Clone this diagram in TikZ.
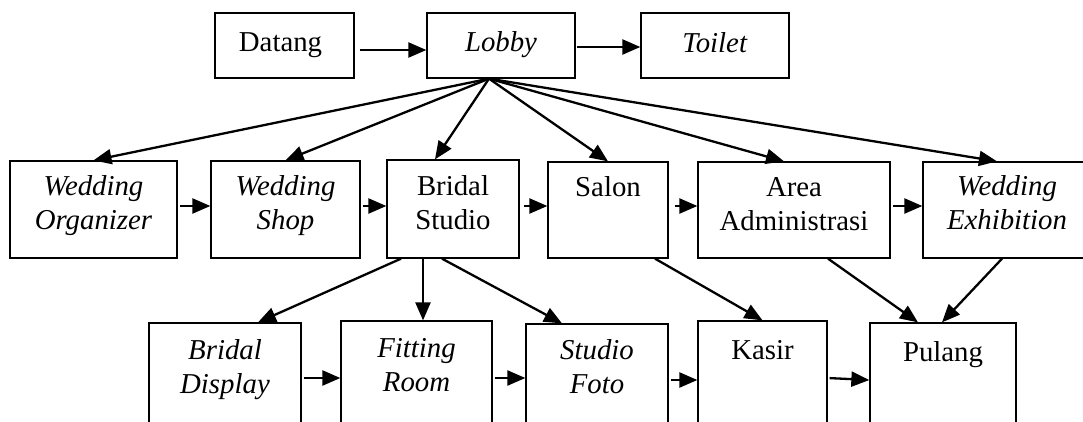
\documentclass[tikz,border=0pt]{standalone}
\usepackage{fontspec}
\setmainfont{Liberation Serif}
\usetikzlibrary{arrows.meta,fit}
\begin{document}
\begin{tikzpicture}[x=1pt,y=-1pt,
  box/.style={draw,line width=1.3pt,inner sep=0pt,rectangle},
  lbl/.style={font=\fontsize{28.8}{34}\selectfont,align=center,inner sep=0pt,anchor=north},
  arr/.style={line width=2.3pt,-{Triangle[length=18pt,width=15pt]}}]
\useasboundingbox (0,0) rectangle (1083,421);
\clip (0,0) rectangle (1083,421);

% top row
\node[box, fit={(215,13) (354,78)}] (datang) {};
\node[box, fit={(427,13) (575,78)}] (lobby) {};
\node[box, fit={(641,13) (789,78)}] (toilet) {};
\node[lbl] at ([yshift=-15.5pt,xshift=-4pt]datang.north) {\strut Datang};
\node[lbl] at ([yshift=-15.5pt]lobby.north) {\strut\textit{Lobby}};
\node[lbl] at ([yshift=-15.8pt]toilet.north) {\strut\textit{Toilet}};

% middle row
\node[box, fit={(10,161) (177,258)}] (wo) {};
\node[box, fit={(211,161) (360,258)}] (ws) {};
\node[box, fit={(387,160) (519,258)}] (bs) {};
\node[box, fit={(548,162) (668,258)}] (salon) {};
\node[box, fit={(698,162) (890,258)}] (aa) {};
\node[box, fit={(923,162) (1091,258)}] (we) {};
\node[lbl] at ([yshift=-11pt]wo.north) {\strut\textit{Wedding}\\\strut\textit{Organizer}};
\node[lbl] at ([yshift=-11pt]ws.north) {\strut\textit{Wedding}\\\strut\textit{Shop}};
\node[lbl] at ([yshift=-12pt]bs.north) {\strut Bridal\\\strut Studio};
\node[lbl] at ([yshift=-11pt]salon.north) {\strut Salon};
\node[lbl] at ([yshift=-11pt]aa.north) {\strut Area\\\strut Administrasi};
\node[lbl] at ([yshift=-10.5pt]we.north) {\strut\textit{Wedding}\\\strut\textit{Exhibition}};

% bottom row (boxes run past the lower edge)
\node[box, fit={(149,323) (301,440)}] (bd) {};
\node[box, fit={(341,321) (492,440)}] (fr) {};
\node[box, fit={(526,324) (668,440)}] (sf) {};
\node[box, fit={(698,321) (827,440)}] (kasir) {};
\node[box, fit={(870,323) (1016,440)}] (pulang) {};
\node[lbl] at ([yshift=-13.2pt]bd.north) {\strut\textit{Bridal}\\\strut\textit{Display}};
\node[lbl] at ([yshift=-13.2pt]fr.north) {\strut\textit{Fitting}\\\strut\textit{Room}};
\node[lbl] at ([yshift=-12.2pt]sf.north) {\strut\textit{Studio}\\\strut\textit{Foto}};
\node[lbl] at ([yshift=-15.2pt]kasir.north) {\strut Kasir};
\node[lbl] at ([yshift=-15.2pt]pulang.north) {\strut Pulang};

% top connectors
\draw[arr, shorten <=5pt] ([yshift=-4.5pt]datang.east) -- ([yshift=-4.5pt]lobby.west);
\draw[arr, shorten <=1pt] ([yshift=-1.5pt]lobby.east) -- ([yshift=-1.5pt]toilet.west);

% fan out of the lobby
\coordinate (hub) at ([xshift=-12pt]lobby.south);
\draw[arr] (hub) -- (wo.north);
\draw[arr] (hub) -- (ws.north);
\draw[arr] (hub) -- ([xshift=-18pt]bs.north);
\draw[arr] (hub) -- (salon.north);
\draw[arr] (hub) -- ([xshift=-10pt]aa.north);
\draw[arr] (hub) -- ([xshift=-10pt]we.north);

% middle row chain
\coordinate (r2) at (0,206);
\draw[arr, shorten <=2pt] (wo.east |- r2) -- (ws.west |- r2);
\draw[arr, shorten <=2pt] (ws.east |- r2) -- (bs.west |- r2);
\draw[arr, shorten <=4pt] (bs.east |- r2) -- (salon.west |- r2);
\draw[arr, shorten <=6pt] (salon.east |- r2) -- (aa.west |- r2);
\draw[arr, shorten <=2pt] (aa.east |- r2) -- (we.west |- r2);

% down to the bottom row
\draw[arr] ([xshift=-52pt]bs.south) -- ([xshift=33pt]bd.north);
\draw[arr] ([xshift=-30pt]bs.south) -- ([xshift=6.5pt]fr.north);
\draw[arr] ([xshift=-11pt]bs.south) -- ([xshift=-35pt]sf.north);
\draw[arr] ([xshift=47pt]salon.south) -- (kasir.north);
\draw[arr] ([xshift=34pt]aa.south) -- ([xshift=-25pt]pulang.north);
\draw[arr] ([xshift=-5pt]we.south) -- ([xshift=-1pt]pulang.north);

% bottom row chain
\coordinate (r3) at (0,378);
\coordinate (r3b) at (0,380);
\draw[arr, shorten <=2pt] (bd.east |- r3) -- (fr.west |- r3);
\draw[arr, shorten <=2pt] (fr.east |- r3) -- (sf.west |- r3);
\draw[arr, shorten <=2pt] (sf.east |- r3b) -- (kasir.west |- r3b);
\draw[arr, shorten <=2pt] (kasir.east |- r3) -- (pulang.west |- r3b);
\end{tikzpicture}
\end{document}
